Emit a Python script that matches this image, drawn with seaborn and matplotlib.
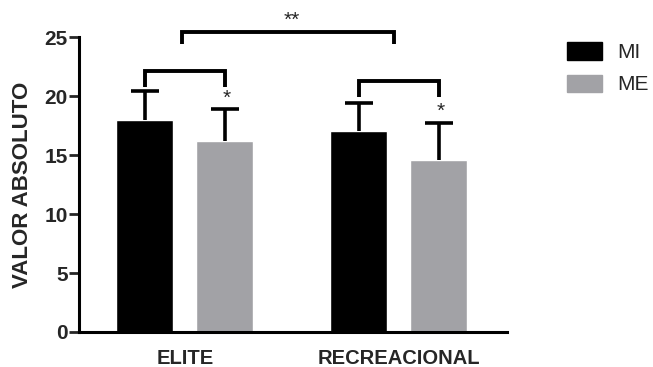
import matplotlib
matplotlib.use("Agg")
import matplotlib.pyplot as plt
import seaborn as sns
import pandas as pd
import numpy as np
from matplotlib.patches import Patch

groups = ["ELITE", "RECREACIONAL"]
series = ["MI", "ME"]
mi_means = [18.0, 17.0]
me_means = [16.2, 14.6]
mi_err = [2.4, 2.4]
me_err = [2.7, 3.1]
yticks = [0, 5, 10, 15, 20, 25]
colors = {"MI": "#000000", "ME": "#a2a2a6"}

df = pd.DataFrame({
    "grupo": groups * 2,
    "serie": ["MI"] * 2 + ["ME"] * 2,
    "valor": mi_means + me_means,
    "err": mi_err + me_err,
})

sns.set_theme(style="white")
plt.rcParams['font.family'] = ['Liberation Sans', 'DejaVu Sans']

fig = plt.figure(figsize=(6.53, 3.67), dpi=100)
ax = fig.add_axes([0.121, 0.0954, 0.655, 0.8036])

sns.barplot(data=df, x="grupo", y="valor", hue="serie", hue_order=series,
            palette=colors, order=groups, width=0.748, gap=0.29,
            errorbar=None, legend=False, ax=ax, saturation=1)

# error bars (upper only)
bar_x = {}
for cont, s in zip(ax.containers, series):
    sub = df[df.serie == s].set_index("grupo").loc[groups]
    xs = [p.get_x() + p.get_width() / 2 for p in cont.patches]
    for xv, g in zip(xs, groups):
        bar_x[(g, s)] = xv
    _, caps, _ = ax.errorbar(xs, sub["valor"], yerr=[np.zeros(len(xs)), sub["err"]],
                             fmt="none", ecolor="black", elinewidth=2.6, capsize=10,
                             capthick=2.6, clip_on=False, zorder=3)
    caps[0].set_visible(False)

def bracket(x1, x2, ylow1, ylow2, ytop):
    ax.plot([x1, x1, x2, x2], [ylow1, ytop, ytop, ylow2], color="black",
            lw=2.8, clip_on=False, solid_joinstyle="miter", solid_capstyle="butt")

bracket(bar_x[("ELITE", "MI")], bar_x[("ELITE", "ME")], 20.8, 20.8, 22.1)
bracket(bar_x[("RECREACIONAL", "MI")], bar_x[("RECREACIONAL", "ME")], 19.9, 19.9, 21.3)
bracket(-0.015, 0.98, 24.4, 24.4, 25.4)
ax.text(bar_x[("ELITE", "ME")] + 0.01, 19.0, "*", ha="center", va="bottom", fontsize=15)
ax.text(bar_x[("RECREACIONAL", "ME")] + 0.01, 17.9, "*", ha="center", va="bottom", fontsize=15)
ax.text(0.5, 25.6, "**", ha="center", va="bottom", fontsize=15)

ax.set_xlim(-0.495, 1.505)
ax.set_ylim(0, 25)
ax.set_yticks(yticks)
ax.set_yticklabels([str(t) for t in yticks], fontsize=15, fontweight="bold")
ax.set_xticks([0, 1])
ax.set_xticklabels(groups, fontsize=14.5, fontweight="bold")
ax.set_xlabel("")
ax.set_ylabel("VALOR ABSOLUTO", fontsize=16, fontweight="bold", labelpad=8)
ax.tick_params(axis="y", direction="out", length=7, width=2, left=True, pad=1)
ax.tick_params(axis="x", length=0, pad=12)
for side in ["top", "right"]:
    ax.spines[side].set_visible(False)
for side in ["left", "bottom"]:
    ax.spines[side].set_linewidth(2.2)
    ax.spines[side].set_color("black")

handles = [Patch(facecolor=colors[s], edgecolor=colors[s], label=s) for s in series]
fig.legend(handles=handles, loc="upper left", bbox_to_anchor=(0.868, 0.885),
           frameon=False, fontsize=15, handlelength=1.68, handleheight=0.91,
           labelspacing=0.6, handletextpad=0.72, borderaxespad=0, borderpad=0)

fig.savefig("out.png", dpi=100)
